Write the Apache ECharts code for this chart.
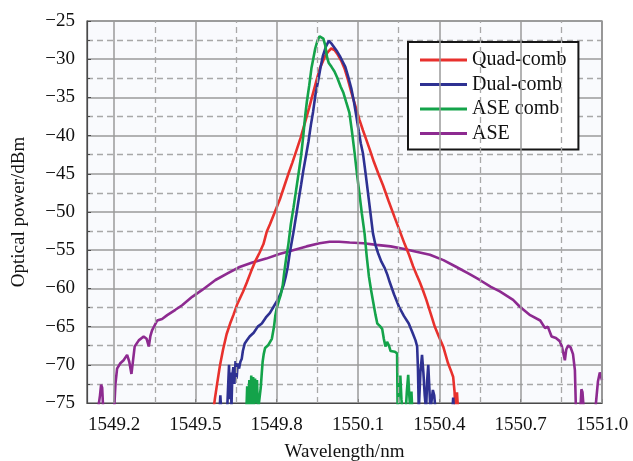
<!DOCTYPE html>
<html>
<head>
<meta charset="utf-8">
<title>Optical spectrum</title>
<script src="https://cdn.jsdelivr.net/npm/echarts@6.0.0/dist/echarts.min.js"></script>
<style>
  html, body { margin: 0; padding: 0; background: #ffffff; }
  #chart { width: 633px; height: 461px; }
</style>
</head>
<body>
<div id="chart"></div>
<script>
// tick positions on the wavelength axis
const majorTicks = [1549.2, 1549.5, 1549.8, 1550.1, 1550.4, 1550.7, 1551.0];
const minorTicks = [1549.35, 1549.65, 1549.95, 1550.25, 1550.55, 1550.85];

const seriesNames = ['Quad-comb', 'Dual-comb', 'ASE comb', 'ASE'];
const seriesColors = ['#e8312d', '#2e3192', '#14a34a', '#8d2a90'];

// [wavelength nm, power dBm]
const quadComb = [
  [1549.566, -76], [1549.572, -74.4], [1549.580, -72.5], [1549.590, -70.2], [1549.602, -68.0],
  [1549.615, -66.0], [1549.628, -64.6], [1549.640, -63.5], [1549.655, -62.0], [1549.676, -60.4],
  [1549.690, -59.2], [1549.705, -57.8], [1549.720, -56.5], [1549.737, -55.3], [1549.751, -54.2],
  [1549.763, -52.6], [1549.775, -51.6], [1549.793, -50.0], [1549.812, -48.3], [1549.828, -46.6],
  [1549.843, -45.0], [1549.858, -43.5], [1549.874, -41.8], [1549.888, -40.3], [1549.905, -38.2],
  [1549.920, -36.3], [1549.935, -34.3], [1549.948, -32.6], [1549.960, -31.1], [1549.970, -30.3],
  [1549.978, -29.6], [1549.990, -29.0], [1550.001, -28.6], [1550.013, -28.8], [1550.025, -29.4],
  [1550.038, -30.2], [1550.050, -31.2], [1550.063, -32.7], [1550.075, -34.3], [1550.090, -36.1],
  [1550.105, -37.9], [1550.118, -39.3], [1550.130, -40.5], [1550.143, -41.8], [1550.158, -43.4],
  [1550.175, -45.0], [1550.192, -46.5], [1550.213, -48.6], [1550.235, -50.7], [1550.253, -52.4],
  [1550.272, -54.2], [1550.288, -55.6], [1550.303, -57.1], [1550.316, -58.2], [1550.328, -59.2],
  [1550.340, -60.3], [1550.352, -61.5], [1550.368, -63.3], [1550.383, -65.0], [1550.398, -66.3],
  [1550.414, -67.6], [1550.423, -68.7], [1550.432, -69.8], [1550.443, -70.8], [1550.451, -71.6],
  [1550.456, -73.5], [1550.459, -76], [1550.462, -74.0], [1550.465, -73.6], [1550.469, -76]
];

const dualComb = [
  [1549.589, -76], [1549.592, -74.0], [1549.595, -76], [1549.617, -76], [1549.621, -72.5],
  [1549.624, -70.0], [1549.627, -74.5], [1549.630, -71.0], [1549.633, -75.5], [1549.636, -71.5],
  [1549.640, -70.3], [1549.644, -72.5], [1549.648, -69.5], [1549.652, -71.8], [1549.656, -69.8],
  [1549.661, -70.5], [1549.666, -69.6], [1549.671, -69.2], [1549.675, -68.2], [1549.682, -67.2],
  [1549.690, -66.8], [1549.700, -66.3], [1549.715, -65.8], [1549.730, -65.0], [1549.745, -64.6],
  [1549.760, -63.8], [1549.775, -63.2], [1549.790, -62.3], [1549.805, -61.4], [1549.815, -60.6],
  [1549.825, -59.6], [1549.833, -58.5], [1549.840, -57.3], [1549.848, -55.4], [1549.855, -54.0],
  [1549.862, -52.6], [1549.872, -50.4], [1549.880, -48.6], [1549.890, -46.4], [1549.898, -44.6],
  [1549.908, -42.6], [1549.917, -40.8], [1549.926, -38.6], [1549.934, -36.9], [1549.943, -34.6],
  [1549.952, -33.0], [1549.961, -31.2], [1549.970, -29.6], [1549.981, -28.4], [1549.992, -27.6],
  [1550.003, -28.0], [1550.013, -28.5], [1550.023, -29.0], [1550.033, -29.6], [1550.043, -30.3],
  [1550.053, -31.0], [1550.063, -32.2], [1550.075, -33.8], [1550.085, -35.6], [1550.093, -37.3],
  [1550.103, -39.5], [1550.110, -41.0], [1550.118, -42.3], [1550.128, -45.0], [1550.137, -47.6],
  [1550.146, -50.2], [1550.155, -52.8], [1550.164, -54.3], [1550.174, -55.4], [1550.186, -56.5],
  [1550.198, -57.3], [1550.208, -58.2], [1550.217, -59.2], [1550.233, -60.8], [1550.251, -62.4],
  [1550.269, -63.6], [1550.287, -64.6], [1550.301, -65.8], [1550.312, -66.8], [1550.318, -67.6],
  [1550.321, -70.5], [1550.324, -76], [1550.330, -71.0], [1550.336, -68.7], [1550.341, -71.0],
  [1550.346, -74.0], [1550.351, -76], [1550.355, -72.0], [1550.359, -70.0], [1550.363, -73.0],
  [1550.367, -76], [1550.372, -74.5], [1550.376, -73.3], [1550.381, -74.0], [1550.386, -76],
  [1550.448, -76], [1550.451, -74.3], [1550.454, -76]
];

const aseComb = [
  [1549.688, -76], [1549.691, -72.8], [1549.694, -76], [1549.699, -72.0], [1549.702, -76],
  [1549.706, -71.4], [1549.709, -75.5], [1549.713, -71.6], [1549.716, -76], [1549.720, -71.8],
  [1549.724, -75.0], [1549.727, -72.0], [1549.731, -76], [1549.736, -76], [1549.741, -73.0],
  [1549.745, -71.0], [1549.748, -69.6], [1549.752, -68.6], [1549.757, -67.8], [1549.763, -68.0],
  [1549.769, -67.4], [1549.775, -67.2], [1549.782, -66.6], [1549.790, -65.0], [1549.795, -63.5],
  [1549.800, -62.6], [1549.808, -61.6], [1549.815, -60.8], [1549.822, -59.6], [1549.828, -57.8],
  [1549.835, -56.0], [1549.843, -54.2], [1549.852, -51.6], [1549.862, -49.4], [1549.872, -47.0],
  [1549.882, -44.6], [1549.890, -42.6], [1549.898, -40.0], [1549.905, -37.4], [1549.911, -35.6],
  [1549.920, -33.4], [1549.928, -31.2], [1549.935, -29.9], [1549.942, -28.6], [1549.950, -27.6],
  [1549.958, -27.0], [1549.965, -26.8], [1549.972, -27.3], [1549.979, -28.2], [1549.986, -29.8],
  [1549.992, -30.5], [1550.002, -31.0], [1550.013, -31.6], [1550.023, -32.4], [1550.036, -33.6],
  [1550.046, -34.4], [1550.056, -35.6], [1550.068, -37.0], [1550.078, -39.6], [1550.087, -42.2],
  [1550.096, -45.0], [1550.105, -47.6], [1550.114, -50.2], [1550.124, -52.8], [1550.132, -55.8],
  [1550.140, -58.4], [1550.148, -60.2], [1550.156, -61.8], [1550.164, -63.4], [1550.171, -64.6],
  [1550.180, -64.9], [1550.189, -65.3], [1550.195, -66.6], [1550.201, -67.6], [1550.207, -67.0],
  [1550.214, -67.5], [1550.220, -68.2], [1550.226, -68.3], [1550.236, -68.3], [1550.244, -68.5],
  [1550.246, -76], [1550.252, -73.0], [1550.256, -71.4], [1550.260, -74.5], [1550.264, -76],
  [1550.276, -76], [1550.280, -73.5], [1550.285, -71.3], [1550.289, -74.0], [1550.293, -76],
  [1550.297, -73.5], [1550.300, -76]
];

const ase = [
  [1549.140, -76], [1549.148, -74.0], [1549.152, -72.6], [1549.156, -73.0], [1549.160, -76],
  [1549.200, -76], [1549.205, -72.5], [1549.211, -70.5], [1549.223, -69.8], [1549.235, -69.4],
  [1549.248, -68.7], [1549.256, -69.6], [1549.264, -71.2], [1549.270, -69.4], [1549.276, -67.6],
  [1549.291, -66.8], [1549.309, -66.3], [1549.320, -66.6], [1549.328, -67.6], [1549.334, -66.2],
  [1549.340, -65.5], [1549.359, -64.2], [1549.377, -64.0], [1549.396, -63.5], [1549.426, -62.8],
  [1549.451, -62.2], [1549.488, -61.1], [1549.525, -60.2], [1549.574, -58.9], [1549.620, -58.0],
  [1549.663, -57.2], [1549.710, -56.6], [1549.761, -56.1], [1549.810, -55.5], [1549.860, -55.0],
  [1549.910, -54.5], [1549.958, -54.1], [1549.995, -53.9], [1550.030, -53.9], [1550.069, -54.0],
  [1550.120, -54.1], [1550.168, -54.3], [1550.220, -54.5], [1550.266, -54.8], [1550.315, -55.2],
  [1550.365, -55.6], [1550.415, -56.3], [1550.463, -57.2], [1550.510, -58.1], [1550.549, -58.9],
  [1550.590, -59.8], [1550.623, -60.4], [1550.672, -61.5], [1550.697, -62.4], [1550.735, -63.5],
  [1550.772, -64.2], [1550.790, -65.2], [1550.800, -65.0], [1550.814, -66.3], [1550.830, -66.5],
  [1550.844, -66.9], [1550.852, -67.6], [1550.863, -69.4], [1550.868, -68.0], [1550.875, -67.5],
  [1550.884, -67.7], [1550.893, -68.6], [1550.900, -70.7], [1550.904, -76], [1550.920, -76],
  [1550.924, -73.2], [1550.928, -73.6], [1550.933, -76], [1550.975, -76], [1550.985, -72.2],
  [1550.992, -71.0], [1551.000, -72.0]
];

const seriesData = [quadComb, dualComb, aseComb, ase];

const chart = echarts.init(document.getElementById('chart'));

const font = 'Liberation Serif, Times New Roman, serif';
const solidStyle = () => ({ color: '#9a9a9a', width: 1.5, type: 'solid' });
const dashedStyle = () => ({ color: '#a8a8a8', width: 1.3, type: [6, 4] });

// vertical grid lines, drawn as markLines at the wavelength ticks
function gridLines(name, ticks, styleFn) {
  return {
    name: name,
    type: 'line',
    data: [],
    z: 1,
    markLine: {
      silent: true,
      symbol: ['none', 'none'],
      label: { show: false },
      data: ticks.map(v => ({ xAxis: v, lineStyle: styleFn() }))
    }
  };
}

const option = {
  backgroundColor: '#ffffff',
  animation: false,
  textStyle: { fontFamily: font },
  grid: {
    left: 87, right: 31, top: 21, bottom: 58,
    outerBoundsMode: 'none',
    show: true,
    backgroundColor: '#f9fafd',
    borderColor: '#4a4a4a',
    borderWidth: 1.2
  },
  legend: {
    data: seriesNames,
    orient: 'vertical',
    left: 408,
    top: 42,
    icon: 'rect',
    itemWidth: 47,
    itemHeight: 3,
    itemGap: 4.5,
    padding: [8, 12, 6, 12],
    backgroundColor: '#ffffff',
    borderColor: '#161616',
    borderWidth: 2,
    textStyle: { fontFamily: font, fontSize: 20, lineHeight: 20, color: '#111' }
  },
  xAxis: {
    type: 'value',
    min: 1549.1,
    max: 1551.0,
    name: 'Wavelength/nm',
    nameLocation: 'middle',
    nameGap: 40,
    nameTextStyle: { fontFamily: font, fontSize: 19, color: '#111' },
    axisLine: { show: true, onZero: false, lineStyle: { color: '#4a4a4a', width: 1.2 } },
    axisTick: { show: true, inside: true, length: 4, customValues: majorTicks, lineStyle: { color: '#4a4a4a' } },
    axisLabel: {
      customValues: majorTicks,
      margin: 13,
      fontFamily: font, fontSize: 19, color: '#111',
      formatter: v => v.toFixed(1)
    },
    splitLine: { show: false }
  },
  yAxis: {
    type: 'value',
    min: -75,
    max: -25,
    interval: 5,
    name: 'Optical power/dBm',
    nameLocation: 'middle',
    nameGap: 58,
    nameTextStyle: { fontFamily: font, fontSize: 19, color: '#111' },
    axisLine: { show: true, onZero: false, lineStyle: { color: '#4a4a4a', width: 1.2 } },
    axisTick: { show: true, inside: true, length: 4, lineStyle: { color: '#4a4a4a' } },
    axisLabel: {
      margin: 12,
      fontFamily: font, fontSize: 19, color: '#111',
      formatter: v => (v < 0 ? '\u2212' : '') + Math.abs(v)
    },
    splitLine: { show: true, lineStyle: solidStyle() },
    minorTick: { show: true, splitNumber: 2, length: 3 },
    minorSplitLine: { show: true, lineStyle: dashedStyle() }
  },
  series: [
    gridLines('majorGrid', majorTicks, solidStyle),
    gridLines('minorGrid', minorTicks, dashedStyle)
  ].concat(seriesNames.map((name, i) => ({
    name: name,
    type: 'line',
    data: seriesData[i],
    showSymbol: false,
    symbol: 'none',
    clip: true,
    color: seriesColors[i],
    lineStyle: { color: seriesColors[i], width: 2.6 },
    z: i === 3 ? 3 : 4
  })))
};

chart.setOption(option);
</script>
</body>
</html>
